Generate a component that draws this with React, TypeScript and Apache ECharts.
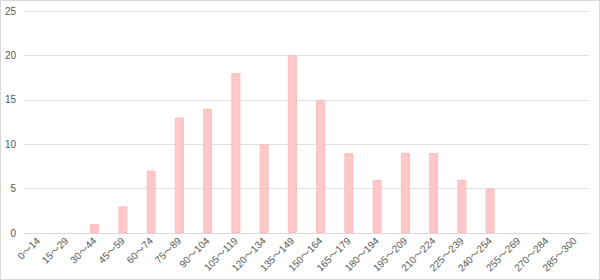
import React, { useEffect, useRef } from "react";
import * as echarts from "echarts";

const categories = [
  "0～14", "15～29", "30～44", "45～59", "60～74", "75～89", "90～104", "105～119",
  "120～134", "135～149", "150～164", "165～179", "180～194", "195～209", "210～224",
  "225～239", "240～254", "255～269", "270～284", "285～300",
];
const counts = [0, 0, 1, 3, 7, 13, 14, 18, 10, 20, 15, 9, 6, 9, 9, 6, 5, 0, 0, 0];
const yMin = 0;
const yMax = 25;
const yStep = 5;

export default function App() {
  const ref = useRef<HTMLDivElement>(null);
  useEffect(() => {
    document.body.style.margin = "0";
    const chart = echarts.init(ref.current!, undefined, { renderer: "svg" });
    chart.setOption({
      animation: false,
      grid: { left: 23, right: 10, top: 10, bottom: 46, containLabel: false },
      xAxis: {
        type: "category",
        data: categories,
        axisLine: { lineStyle: { color: "#d9d9d9", width: 1 } },
        axisTick: { show: false },
        axisLabel: {
          rotate: 45,
          interval: 0,
          color: "#595959",
          fontSize: 10,
          fontFamily: "Liberation Sans, Noto Sans CJK SC",
          margin: 6,
        },
      },
      yAxis: {
        type: "value",
        min: yMin,
        max: yMax,
        interval: yStep,
        axisLine: { show: false },
        axisTick: { show: false },
        splitLine: { lineStyle: { color: "#e0e0e0", width: 1 } },
        axisLabel: {
          color: "#595959",
          fontSize: 10,
          fontFamily: "Liberation Sans",
          margin: 8,
        },
      },
      series: [
        {
          type: "bar",
          data: counts.map((v) => (v === 0 ? null : v)),
          barWidth: 9,
          itemStyle: { color: "#ffc7c7", borderColor: "#ffbcbc", borderWidth: 1 },
        },
      ],
    });
    return () => chart.dispose();
  }, []);
  return (
    <div
      style={{
        width: 600,
        height: 280,
        boxSizing: "border-box",
        border: "1px solid #d9d9d9",
        background: "#fff",
        position: "relative",
      }}
    >
      <div ref={ref} style={{ width: 598, height: 278 }} />
    </div>
  );
}
